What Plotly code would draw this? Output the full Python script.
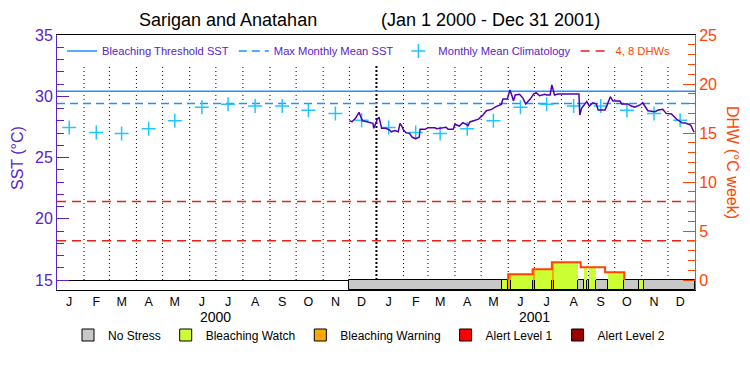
import pandas as pd
import plotly.graph_objects as go

# ---------------- data ----------------
title_site = "Sarigan and Anatahan"
title_period = "(Jan 1 2000 - Dec 31 2001)"
month_letters = ["J", "F", "M", "A", "M", "J", "J", "A", "S", "O", "N", "D"]
year_labels = ["2000", "2001"]
year_label_dates = ["2000-07-01", "2001-07-01"]

clim_values = [27.45, 27.05, 26.95, 27.35, 28.0, 29.1, 29.35, 29.2, 29.2, 28.85, 28.6, 28.05]
mmm_sst = 29.4
threshold_sst = 30.4
dhw_levels = [4, 8]

sst_dates = [
    "2000-12-01", "2000-12-04", "2000-12-08", "2000-12-12", "2000-12-14", "2000-12-16", "2000-12-21",
    "2000-12-28", "2000-12-29", "2000-12-31",
    "2001-01-02", "2001-01-04", "2001-01-07", "2001-01-12", "2001-01-16", "2001-01-18", "2001-01-22",
    "2001-01-26", "2001-01-28", "2001-01-30",
    "2001-02-01", "2001-02-04", "2001-02-08", "2001-02-11", "2001-02-15", "2001-02-19", "2001-02-20",
    "2001-02-26",
    "2001-03-01", "2001-03-09", "2001-03-11", "2001-03-22", "2001-03-24", "2001-03-30",
    "2001-04-01", "2001-04-06", "2001-04-10", "2001-04-14", "2001-04-16", "2001-04-18", "2001-04-22",
    "2001-04-28",
    "2001-05-03", "2001-05-07", "2001-05-13", "2001-05-18", "2001-05-24", "2001-05-26", "2001-05-31",
    "2001-06-03", "2001-06-05", "2001-06-07", "2001-06-09", "2001-06-14", "2001-06-18", "2001-06-21",
    "2001-06-26", "2001-06-30",
    "2001-07-03", "2001-07-07", "2001-07-13", "2001-07-15", "2001-07-19", "2001-07-21", "2001-07-24",
    "2001-07-28",
    "2001-08-21", "2001-08-22", "2001-08-24", "2001-08-28", "2001-08-30",
    "2001-09-02", "2001-09-06", "2001-09-10", "2001-09-12", "2001-09-20", "2001-09-22", "2001-09-26",
    "2001-09-29",
    "2001-10-07", "2001-10-09", "2001-10-16", "2001-10-20", "2001-10-24", "2001-10-30",
    "2001-11-02", "2001-11-08", "2001-11-16", "2001-11-20", "2001-11-25", "2001-11-29",
    "2001-12-05", "2001-12-11", "2001-12-17", "2001-12-22", "2001-12-27", "2001-12-31",
]
sst_values = [
    28.0, 27.92, 28.2, 28.69, 28.33, 28.0, 27.92, 27.79, 27.38, 27.79,
    28.13, 28.29, 27.38, 27.38, 27.24, 27.1, 27.2, 27.1, 27.79, 27.57,
    27.24, 27.02, 26.97, 26.65, 26.53, 26.65, 27.3, 27.3,
    27.43, 27.43, 27.35, 27.47, 27.3, 27.3,
    27.71, 27.57, 27.84, 27.71, 27.6, 27.9, 28.0, 28.13,
    28.47, 28.82, 28.93, 29.15, 29.34, 29.78, 29.78,
    30.51, 30.1, 29.64, 30.1, 30.16, 29.83, 29.37, 29.75, 30.18,
    30.29, 30.04, 30.16, 30.1, 30.1, 30.92, 30.1, 30.18,
    30.18, 28.47, 29.02, 29.42, 29.56,
    29.2, 29.47, 29.37, 28.88, 28.88, 29.29, 29.96, 29.61,
    29.61, 29.37, 29.37, 29.2, 29.1, 29.29,
    29.47, 28.82, 28.74, 28.88, 28.93, 28.6,
    28.55, 28.12, 27.84, 27.79, 27.65, 27.06,
]

dhw_dates = ["2001-06-01", "2001-06-29", "2001-07-21", "2001-08-23", "2001-09-20", "2001-10-12"]
dhw_values = [0.58, 1.09, 1.8, 1.3, 0.79, 0.0]

stress_starts = ["2000-12-01", "2001-05-25", "2001-06-01", "2001-06-04", "2001-06-29", "2001-07-02",
                 "2001-07-21", "2001-07-24", "2001-08-20", "2001-08-27", "2001-08-30", "2001-09-02",
                 "2001-09-10", "2001-09-23", "2001-10-12", "2001-10-29", "2001-11-04"]
stress_ends = ["2001-05-25", "2001-06-01", "2001-06-04", "2001-06-29", "2001-07-02", "2001-07-21",
               "2001-07-24", "2001-08-20", "2001-08-27", "2001-08-30", "2001-09-02", "2001-09-10",
               "2001-09-23", "2001-10-12", "2001-10-29", "2001-11-04", "2002-01-01"]
stress_levels = [0, 1, 2, 1, 2, 1, 2, 1, 0, 1, 0, 1, 0, 1, 0, 1, 0]
stress_names = ["No Stress", "Bleaching Watch", "Bleaching Warning", "Alert Level 1", "Alert Level 2"]
stress_colors = ["#C8C8C8", "#CCFF33", "#FFAA00", "#FF0000", "#990000"]

# ---------------- style ----------------
FONT = "Liberation Sans, Arial, sans-serif"
PURPLE = "#5A22C8"
SST_LINE = "#5000B4"
ORANGE = "#FF4500"
RED = "#E8201A"
BLUE = "#1E90FF"
CLIM = "#1EC8FF"

# page body has an 8px default margin: the figure is sized so that its plot lands where intended
PAGE_OFF = 8
FIG_W, FIG_H = 750 - PAGE_OFF, 375 - PAGE_OFF

x_start = pd.Timestamp("2000-01-01")
x_end = pd.Timestamp("2002-01-01")
Y_LO, Y_HI = 14.1837, 35.0
Y2_LO, Y2_HI = -1.0204, 25.0
GRID_TOP = 32.55

month_starts = pd.date_range(x_start, x_end, freq="MS")
mid_months = [m + pd.Timedelta(days=14) for m in month_starts[:-1]]

fig = go.Figure()

# dotted month separators
sep_x, sep_y, sep_x2, sep_y2 = [], [], [], []
for m in month_starts[1:-1]:
    if m.month == 1:
        sep_x2 += [m, m, None]; sep_y2 += [15, GRID_TOP, None]
    else:
        sep_x += [m, m, None]; sep_y += [15, GRID_TOP, None]
fig.add_trace(go.Scatter(x=sep_x, y=sep_y, mode="lines", line=dict(color="black", width=1, dash="1px,3px"),
                         showlegend=False, hoverinfo="skip"))
fig.add_trace(go.Scatter(x=sep_x2, y=sep_y2, mode="lines", line=dict(color="black", width=2, dash="2px,2px"),
                         showlegend=False, hoverinfo="skip"))

# stress strip
s_start = pd.to_datetime(stress_starts)
s_end = pd.to_datetime(stress_ends)
for lvl, (name, color) in enumerate(zip(stress_names, stress_colors)):
    idx = [i for i, l in enumerate(stress_levels) if l == lvl]
    xs = [s_start[i] + (s_end[i] - s_start[i]) / 2 for i in idx]
    ws = [(s_end[i] - s_start[i]).total_seconds() * 1000 for i in idx]
    fig.add_trace(go.Bar(
        x=xs if xs else [None], y=[-Y2_LO] * len(xs) if xs else [None], base=Y2_LO,
        width=ws if ws else None, yaxis="y2", name=name, legend="legend2",
        marker=dict(color=color, line=dict(color="black", width=1)), hoverinfo="skip"))

# DHW fill coloured by stress level
dhw_s = pd.Series(dhw_values, index=pd.to_datetime(dhw_dates))


def dhw_at(t):
    prior = dhw_s[dhw_s.index <= t]
    return float(prior.iloc[-1]) if len(prior) else 0.0


for lvl in range(1, 5):
    fx, fy, fw = [], [], []
    for i, l in enumerate(stress_levels):
        if l != lvl:
            continue
        v = dhw_at(s_start[i])
        if v <= 0:
            continue
        fx.append(s_start[i] + (s_end[i] - s_start[i]) / 2)
        fy.append(v)
        fw.append((s_end[i] - s_start[i]).total_seconds() * 1000)
    if fx:
        fig.add_trace(go.Bar(x=fx, y=fy, base=0, width=fw, yaxis="y2", showlegend=False,
                             marker=dict(color=stress_colors[lvl], line=dict(width=0)), hoverinfo="skip"))

# DHW outline
fig.add_trace(go.Scatter(x=[pd.Timestamp(dhw_dates[0])] + list(pd.to_datetime(dhw_dates)),
                         y=[0] + dhw_values, yaxis="y2", mode="lines", line_shape="hv",
                         line=dict(color=ORANGE, width=2), showlegend=False, hoverinfo="skip"))

# reference lines
fig.add_trace(go.Scatter(x=[x_start, x_end], y=[threshold_sst] * 2, mode="lines",
                         line=dict(color=BLUE, width=1.5), name="Bleaching Threshold SST"))
fig.add_trace(go.Scatter(x=[x_start, x_end], y=[mmm_sst] * 2, mode="lines",
                         line=dict(color=BLUE, width=1.5, dash="8px,5px"), name="Max Monthly Mean SST"))
fig.add_trace(go.Scatter(x=mid_months, y=clim_values * 2, mode="markers",
                         marker=dict(symbol="cross-thin", size=10, line=dict(color=CLIM, width=1.5)),
                         name="Monthly Mean Climatology"))
dx, dy = [], []
for lv in dhw_levels:
    dx += [x_start, x_end, None]; dy += [lv, lv, None]
fig.add_trace(go.Scatter(x=dx, y=dy, yaxis="y2", mode="lines", line=dict(color=RED, width=1.5, dash="9px,6px"),
                         name='<span style="color:%s">4, 8 DHWs</span>' % ORANGE))

# SST
fig.add_trace(go.Scatter(x=pd.to_datetime(sst_dates), y=sst_values, mode="lines",
                         line=dict(color=SST_LINE, width=1.5), showlegend=False))

ann = [
    dict(text=title_site, x=0.2688, y=1, yshift=15, xref="paper", yref="paper", showarrow=False,
         font=dict(size=18, color="black"), xanchor="center", yanchor="middle"),
    dict(text=title_period, x=0.680, y=1, yshift=15, xref="paper", yref="paper", showarrow=False,
         font=dict(size=18, color="black"), xanchor="center", yanchor="middle"),
    dict(text="SST (°C)", x=-0.0627, y=0.5176, xref="paper", yref="paper", showarrow=False, textangle=-90,
         font=dict(size=16, color=PURPLE), xanchor="center", yanchor="middle"),
    dict(text="DHW (°C week)", x=1.058, y=0.502, xref="paper", yref="paper", showarrow=False, textangle=90,
         font=dict(size=16, color=ORANGE), xanchor="center", yanchor="middle"),
]
for lab, d in zip(year_labels, year_label_dates):
    ann.append(dict(text=lab, x=d, y=0, yshift=-27, xref="x", yref="paper", showarrow=False,
                    font=dict(size=14, color="black"), xanchor="center", yanchor="middle"))

fig.update_layout(
    width=FIG_W, height=FIG_H,
    margin=dict(l=57 - PAGE_OFF, r=55, t=35 - PAGE_OFF, b=85, autoexpand=False),
    paper_bgcolor="white", plot_bgcolor="white",
    barmode="overlay", bargap=0,
    font=dict(family=FONT, size=12, color="black"),
    annotations=ann,
    xaxis=dict(range=[x_start, x_end], type="date", showline=True, linecolor="black", linewidth=1, mirror=True,
               showgrid=False, zeroline=False, tickmode="array", tickvals=mid_months, ticktext=month_letters * 2,
               ticks="", tickfont=dict(size=12.5, color="black"), tickangle=0, automargin=False),
    yaxis=dict(range=[Y_LO, Y_HI], showline=True, linecolor=PURPLE, linewidth=1, ticks="inside", ticklen=12,
               tickcolor=PURPLE, tick0=0, dtick=5, tickfont=dict(size=16, color=PURPLE), showgrid=False,
               zeroline=False, automargin=False,
               minor=dict(ticks="inside", ticklen=7, dtick=1, tick0=0, tickcolor=PURPLE, showgrid=False)),
    yaxis2=dict(overlaying="y", side="right", range=[Y2_LO, Y2_HI], showline=True, linecolor=ORANGE, linewidth=1,
                ticks="inside", ticklen=12, tickcolor=ORANGE, tick0=0, dtick=5, automargin=False,
                tickfont=dict(size=16, color=ORANGE), showgrid=False, zeroline=True, zerolinecolor="black",
                zerolinewidth=1, minor=dict(ticks="inside", ticklen=7, dtick=1, tick0=0, tickcolor=ORANGE,
                                            showgrid=False)),
    legend=dict(orientation="h", xref="container", yref="container", x=(62 - PAGE_OFF) / FIG_W,
                y=1 - (51 - PAGE_OFF) / FIG_H, xanchor="left", yanchor="middle",
                font=dict(size=11.2, color=PURPLE), bgcolor="rgba(0,0,0,0)", itemwidth=30, traceorder="normal"),
    legend2=dict(orientation="h", xref="container", yref="container", x=(68 - PAGE_OFF) / FIG_W,
                 y=1 - (335 - PAGE_OFF) / FIG_H, xanchor="left", yanchor="middle",
                 font=dict(size=12, color="black"), bgcolor="rgba(0,0,0,0)", itemwidth=30, traceorder="normal"),
    showlegend=True,
)

fig.write_html("out.html")
